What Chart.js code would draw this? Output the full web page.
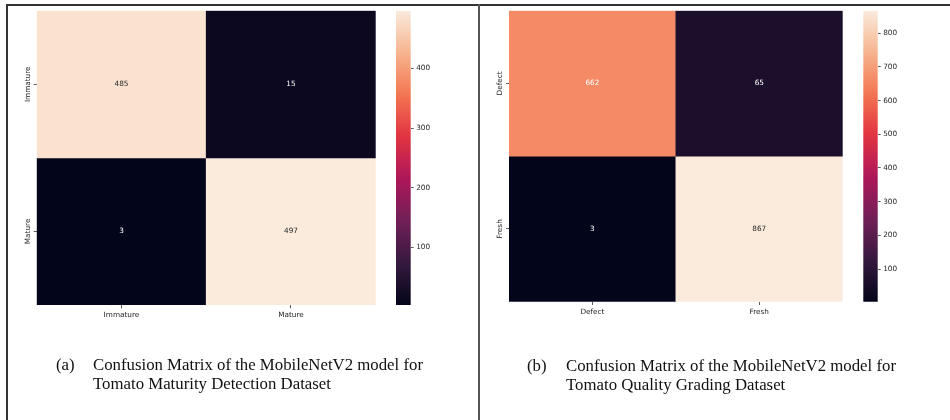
<!DOCTYPE html>
<html><head><meta charset="utf-8">
<script src="https://cdn.jsdelivr.net/npm/chart.js@4.4.1/dist/chart.umd.min.js"></script>
<style>
html,body{margin:0;padding:0;background:#fff;width:950px;height:420px;overflow:hidden;}
#wrap{position:relative;width:950px;height:420px;background:#fff;}
canvas{position:absolute;left:0;top:0;pointer-events:none;}
.line{position:absolute;}
.cap{position:absolute;font-family:'Liberation Serif','Times New Roman',serif;font-size:16.8px;line-height:19px;color:#111;white-space:nowrap;}
</style></head><body>
<div id="wrap">
<canvas id="hmA" width="950" height="420"></canvas>
<canvas id="cbA" width="950" height="420"></canvas>
<canvas id="hmB" width="950" height="420"></canvas>
<canvas id="cbB" width="950" height="420"></canvas>
<div class="line" style="left:6px;top:4px;width:944px;height:2px;background:#333"></div>
<div class="line" style="left:6px;top:4px;width:2px;height:416px;background:#333"></div>
<div class="line" style="left:478px;top:4px;width:2px;height:416px;background:#555"></div>
<div class="cap" style="left:56px;top:355px">(a)</div>
<div class="cap" style="left:93px;top:355px">Confusion Matrix of the MobileNetV2 model for<br>Tomato Maturity Detection Dataset</div>
<div class="cap" style="left:527px;top:356px">(b)</div>
<div class="cap" style="left:566px;top:356px">Confusion Matrix of the MobileNetV2 model for<br>Tomato Quality Grading Dataset</div>
</div>
<script>
// ---- data ----
const rowLabelsA = ['Immature', 'Mature'];
const colLabelsA = ['Immature', 'Mature'];
const matrixA = [[485, 15], [3, 497]];
const cbarTicksA = [100, 200, 300, 400];

const rowLabelsB = ['Defect', 'Fresh'];
const colLabelsB = ['Defect', 'Fresh'];
const matrixB = [[662, 65], [3, 867]];
const cbarTicksB = [100, 200, 300, 400, 500, 600, 700, 800];

// ---- rocket colormap ----
const rocketStops = [
  [0, [3, 5, 26]], [1/7, [53, 25, 62]], [2/7, [112, 31, 87]], [3/7, [173, 23, 89]],
  [4/7, [225, 51, 66]], [5/7, [243, 118, 81]], [6/7, [246, 180, 143]], [1, [250, 235, 221]]
];
function rocketRGB(t) {
  t = Math.max(0, Math.min(1, t));
  for (let i = 1; i < rocketStops.length; i++) {
    const [t1, c1] = rocketStops[i];
    const [t0, c0] = rocketStops[i - 1];
    if (t <= t1) {
      const f = (t - t0) / (t1 - t0);
      return c0.map((v, k) => Math.round(v + (c1[k] - v) * f));
    }
  }
  return rocketStops[rocketStops.length - 1][1];
}
const rgbStr = c => `rgb(${c[0]},${c[1]},${c[2]})`;
function lum(c) {
  const f = v => { v /= 255; return v <= 0.03928 ? v / 12.92 : Math.pow((v + 0.055) / 1.055, 2.4); };
  return 0.2126 * f(c[0]) + 0.7152 * f(c[1]) + 0.0722 * f(c[2]);
}

const W = 950, H = 420;
const FONT = { family: 'DejaVu Sans', size: 7.3 };
const TXT = '#262626';
Chart.defaults.animation = false;
Chart.defaults.font.family = 'DejaVu Sans';

const cellLabelPlugin = {
  id: 'cellLabels',
  afterDatasetsDraw(chart, args, opts) {
    const ctx = chart.ctx;
    ctx.save();
    ctx.font = `${FONT.size}px ${FONT.family}`;
    ctx.textAlign = 'center';
    ctx.textBaseline = 'middle';
    chart.data.datasets.forEach((ds, i) => {
      const meta = chart.getDatasetMeta(i);
      meta.data.forEach((el, j) => {
        const v = opts.matrix[i][j];
        const p = el.getProps(['x', 'y', 'base'], true);
        const c = rocketRGB((v - opts.vmin) / (opts.vmax - opts.vmin));
        ctx.fillStyle = lum(c) < 0.408 ? '#ffffff' : TXT;
        ctx.fillText(String(v), p.x, (p.y + p.base) / 2);
      });
    });
    // rotated row labels
    const ys = chart.scales.y;
    ctx.fillStyle = TXT;
    ys.ticks.forEach((t, k) => {
      const py = ys.getPixelForValue(t.value);
      ctx.save();
      ctx.translate(opts.labelX, py);
      ctx.rotate(-Math.PI / 2);
      ctx.fillText(opts.rows[k], 0, 0);
      ctx.restore();
    });
    ctx.restore();
  }
};

function makeHeatmap(id, rows, cols, matrix, area, labelX) {
  const flat = matrix.flat();
  const vmin = Math.min(...flat), vmax = Math.max(...flat);
  const LW = 30, BH = 25;
  new Chart(document.getElementById(id), {
    type: 'bar',
    data: {
      labels: cols,
      datasets: rows.map((r, i) => ({
        label: r,
        data: matrix[i].map(() => [i, i + 1]),
        backgroundColor: matrix[i].map(v => rgbStr(rocketRGB((v - vmin) / (vmax - vmin)))),
        borderWidth: 0,
        barPercentage: 1,
        categoryPercentage: 1,
        grouped: false
      }))
    },
    options: {
      responsive: false,
      layout: { padding: { left: area.l - LW, right: W - area.r, top: area.t, bottom: H - area.b - BH } },
      plugins: {
        legend: { display: false }, tooltip: { enabled: false },
        cellLabels: { matrix, rows, vmin, vmax, labelX }
      },
      scales: {
        x: {
          type: 'category',
          offset: true,
          border: { display: false },
          grid: { drawOnChartArea: false, drawTicks: true, tickLength: 3.3, color: '#333', lineWidth: 0.8, offset: false },
          ticks: { font: FONT, color: TXT, padding: 2.6, maxRotation: 0 },
          afterFit: s => { s.height = BH; }
        },
        y: {
          type: 'linear', min: 0, max: rows.length, reverse: true,
          border: { display: false },
          grid: { drawOnChartArea: false, drawTicks: true, tickLength: 3, color: '#333', lineWidth: 0.8 },
          ticks: { display: false },
          afterBuildTicks: s => { s.ticks = rows.map((r, i) => ({ value: i + 0.5 })); },
          afterFit: s => { s.width = LW; }
        }
      }
    },
    plugins: [cellLabelPlugin]
  });
}

function makeColorbar(id, matrix, tickVals, area) {
  const flat = matrix.flat();
  const vmin = Math.min(...flat), vmax = Math.max(...flat);
  const RW = 30;
  new Chart(document.getElementById(id), {
    type: 'bar',
    data: {
      labels: ['scale'],
      datasets: [{
        data: [[vmin, vmax]],
        borderWidth: 0,
        barPercentage: 1,
        categoryPercentage: 1,
        backgroundColor: (c) => {
          const ch = c.chart;
          if (!ch.chartArea) return '#000';
          const ys = ch.scales.y;
          const g = ch.ctx.createLinearGradient(0, ys.getPixelForValue(vmin), 0, ys.getPixelForValue(vmax));
          for (let k = 0; k <= 40; k++) g.addColorStop(k / 40, rgbStr(rocketRGB(k / 40)));
          return g;
        }
      }]
    },
    options: {
      responsive: false,
      layout: { padding: { left: area.l, right: W - area.r - RW, top: area.t, bottom: H - area.b } },
      plugins: { legend: { display: false }, tooltip: { enabled: false } },
      scales: {
        x: { display: false },
        y: {
          type: 'linear', position: 'right', min: vmin, max: vmax,
          border: { display: false },
          grid: { drawOnChartArea: false, drawTicks: true, tickLength: 3, color: '#333', lineWidth: 0.8 },
          ticks: { font: FONT, color: TXT, padding: 2.5 },
          afterBuildTicks: s => { s.ticks = tickVals.map(v => ({ value: v })); },
          afterFit: s => { s.width = RW; }
        }
      }
    }
  });
}

makeHeatmap('hmA', rowLabelsA, colLabelsA, matrixA, { l: 36.7, r: 375.7, t: 10.7, b: 305 }, 28.3);
makeColorbar('cbA', matrixA, cbarTicksA, { l: 396, r: 410.7, t: 10.7, b: 305 });
makeHeatmap('hmB', rowLabelsB, colLabelsB, matrixB, { l: 509, r: 842.7, t: 10.7, b: 301.7 }, 500);
makeColorbar('cbB', matrixB, cbarTicksB, { l: 863.3, r: 877.7, t: 10.7, b: 301.7 });
</script>
</body></html>
